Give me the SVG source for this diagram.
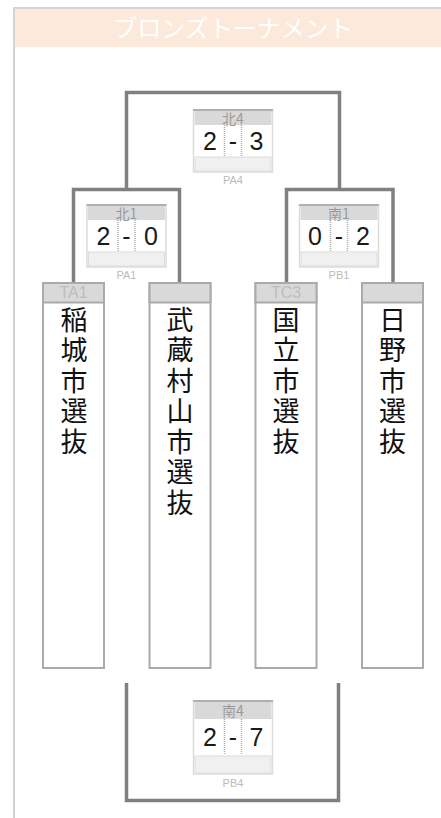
<svg xmlns="http://www.w3.org/2000/svg" width="441" height="818" viewBox="0 0 441 818">
<style>
.frame{stroke:#d4d4d4;stroke-width:2;fill:none}
.br{stroke:#808080;stroke-width:3.5;fill:none}
.tbox{fill:#fff;stroke:#aaa;stroke-width:2}
.thead{fill:#d9d9d9;stroke:#aaa;stroke-width:2}
.tcode{font-family:"Liberation Sans",Arial,sans-serif;font-size:16px;fill:#bdbdbd;text-anchor:middle}
.tname{font-family:"Noto Sans CJK JP","Noto Sans CJK SC",sans-serif;font-size:27px;fill:#111;writing-mode:vertical-rl;text-orientation:upright;letter-spacing:3.5px}
.sbox{fill:#fff;stroke:#dcdcdc;stroke-width:1.5}
.shead{fill:#d9d9d9}
.stop{stroke:#b0b0b0;stroke-width:2}
.srow{fill:#f0f0f0;stroke:#dcdcdc;stroke-width:1}
.sep{stroke:#aaa;stroke-width:1.5;stroke-dasharray:1 1}
.shtxt{font-family:"Noto Sans CJK JP","Liberation Sans",sans-serif;font-size:14px;fill:#999;text-anchor:middle}
.score{font-family:"Liberation Sans",Arial,sans-serif;font-size:25px;fill:#1a1a1a;text-anchor:middle}
.code{font-family:"Liberation Sans",Arial,sans-serif;font-size:11px;fill:#bbb;text-anchor:middle}
.title{font-family:"Noto Sans CJK JP","Noto Sans CJK SC",sans-serif;font-size:24px;fill:#fff;text-anchor:middle}
</style>
<rect x="0" y="0" width="441" height="818" fill="#fff"/>
<g id="frame">
<line class="frame" x1="13" y1="8" x2="441" y2="8"/>
<line class="frame" x1="14" y1="7" x2="14" y2="818"/>
<rect x="15" y="9" width="426" height="38" fill="#fde9db"/>
<text class="title" x="233" y="37">ブロンズトーナメント</text>
</g>
<g id="connectors">
<path class="br" d="M126.5,190 V92.5 H339.5 V190"/>
<path class="br" d="M73.5,284 V189.5 H179.5 V284"/>
<path class="br" d="M286.5,284 V189.5 H393 V284"/>
<path class="br" d="M126.5,683 V800.5 H338.5 V683"/>
</g>
<g id="team-TA1">
<rect class="tbox" x="43" y="283" width="61" height="385"/>
<rect class="thead" x="43" y="283" width="61" height="19.5"/>
<text class="tcode" x="73.5" y="298">TA1</text>
<text class="tname" x="74" y="306">稲城市選抜</text>
</g>
<g id="team-2">
<rect class="tbox" x="149.5" y="283" width="61" height="385"/>
<rect class="thead" x="149.5" y="283" width="61" height="19.5"/>
<text class="tname" x="180" y="306">武蔵村山市選抜</text>
</g>
<g id="team-TC3">
<rect class="tbox" x="255.5" y="283" width="61" height="385"/>
<rect class="thead" x="255.5" y="283" width="61" height="19.5"/>
<text class="tcode" x="286" y="298">TC3</text>
<text class="tname" x="286" y="306">国立市選抜</text>
</g>
<g id="team-4">
<rect class="tbox" x="362" y="283" width="61" height="385"/>
<rect class="thead" x="362" y="283" width="61" height="19.5"/>
<text class="tname" x="392.5" y="306">日野市選抜</text>
</g>
<g id="match-PA4">
<rect class="sbox" x="193.5" y="110" width="79" height="62"/>
<rect class="shead" x="194.5" y="110" width="77" height="15"/>
<line class="stop" x1="193" y1="110" x2="273" y2="110"/>
<rect class="srow" x="195" y="157" width="76" height="14"/>
<line class="sep" x1="224.5" y1="125" x2="224.5" y2="157"/>
<line class="sep" x1="241.5" y1="125" x2="241.5" y2="157"/>
<text class="shtxt" x="233" y="124">北4</text>
<text class="score" x="210" y="150">2</text>
<text class="score" x="233" y="150">-</text>
<text class="score" x="256.5" y="150">3</text>
<text class="code" x="233" y="184">PA4</text>
</g>
<g id="match-PA1">
<rect class="sbox" x="87" y="205" width="79" height="62"/>
<rect class="shead" x="88" y="205" width="77" height="15"/>
<line class="stop" x1="86.5" y1="205" x2="166.5" y2="205"/>
<rect class="srow" x="88.5" y="252" width="76" height="14"/>
<line class="sep" x1="118" y1="220" x2="118" y2="252"/>
<line class="sep" x1="135" y1="220" x2="135" y2="252"/>
<text class="shtxt" x="126.5" y="219">北1</text>
<text class="score" x="103.5" y="245">2</text>
<text class="score" x="126.5" y="245">-</text>
<text class="score" x="151" y="245">0</text>
<text class="code" x="126.5" y="279">PA1</text>
</g>
<g id="match-PB1">
<rect class="sbox" x="299.5" y="205" width="79" height="62"/>
<rect class="shead" x="300.5" y="205" width="77" height="15"/>
<line class="stop" x1="299" y1="205" x2="379" y2="205"/>
<rect class="srow" x="301" y="252" width="76" height="14"/>
<line class="sep" x1="330.5" y1="220" x2="330.5" y2="252"/>
<line class="sep" x1="347.5" y1="220" x2="347.5" y2="252"/>
<text class="shtxt" x="339" y="219">南1</text>
<text class="score" x="315" y="245">0</text>
<text class="score" x="339" y="245">-</text>
<text class="score" x="363" y="245">2</text>
<text class="code" x="339" y="279">PB1</text>
</g>
<g id="match-PB4">
<rect class="sbox" x="193.5" y="701" width="79" height="73"/>
<rect class="shead" x="194.5" y="701" width="77" height="18"/>
<line class="stop" x1="193" y1="701" x2="273" y2="701"/>
<rect class="srow" x="195" y="756" width="76" height="17"/>
<line class="sep" x1="224.5" y1="719" x2="224.5" y2="755"/>
<line class="sep" x1="241.5" y1="719" x2="241.5" y2="755"/>
<text class="shtxt" x="233" y="716">南4</text>
<text class="score" x="210" y="746">2</text>
<text class="score" x="233" y="746">-</text>
<text class="score" x="256.5" y="746">7</text>
<text class="code" x="233" y="787">PB4</text>
</g>
</svg>
